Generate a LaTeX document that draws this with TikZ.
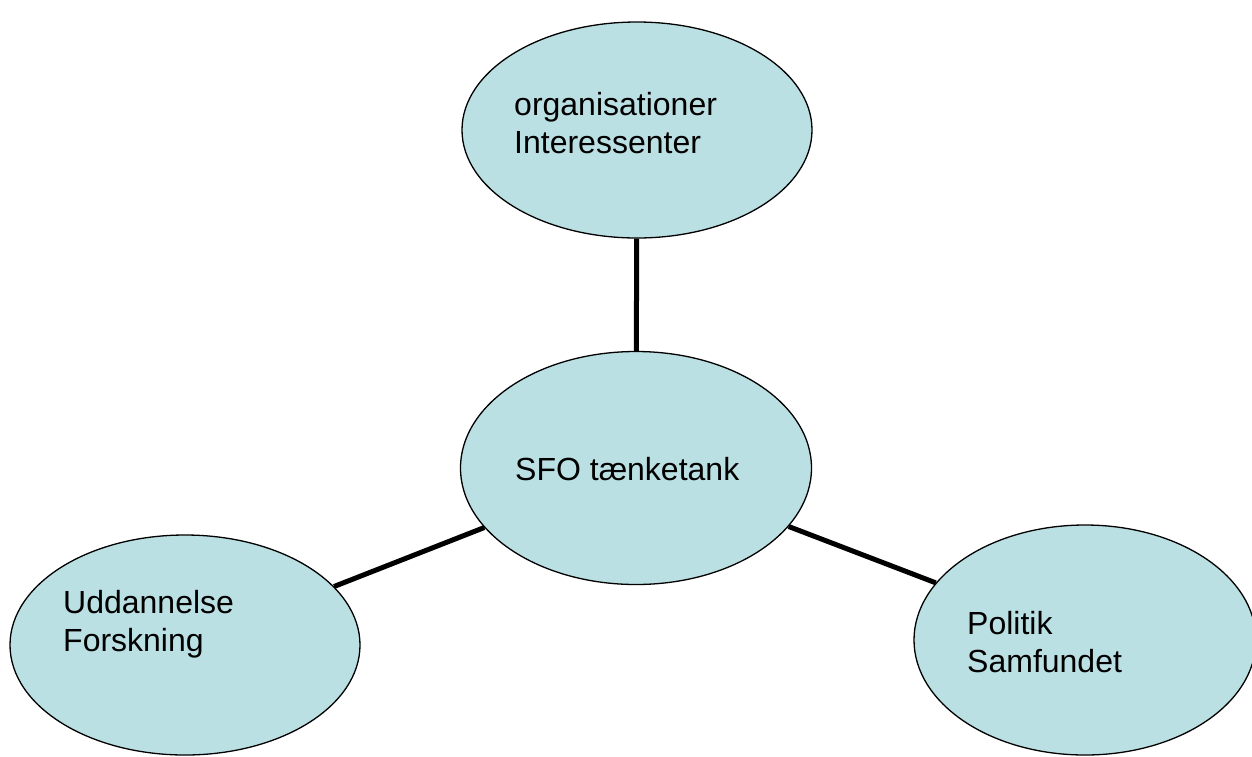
\documentclass[tikz,border=0pt]{standalone}
\usepackage{fontspec}
\setmainfont{Liberation Sans}
\usetikzlibrary{shapes.geometric}
\definecolor{bubble}{RGB}{187,224,227}
\begin{document}
\begin{tikzpicture}[x=1pt,y=-1pt,
  bubble/.style={ellipse,draw=black,line width=1.3pt,fill=bubble,inner sep=0pt},
  lbl/.style={anchor=base west,inner sep=0pt,font=\fontsize{32}{38}\selectfont,align=left},
  link/.style={line width=5pt}]
\useasboundingbox[fill=white] (0,0) rectangle (1252,756);
\node[bubble,minimum width=350pt,minimum height=216pt] (top) at (637,130) {};
\node[bubble,minimum width=351pt,minimum height=233pt] (mid) at (636,468) {};
\node[bubble,minimum width=350pt,minimum height=220pt] (left) at (185,645) {};
\node[bubble,minimum width=342pt,minimum height=230pt] (right) at (1085,640) {};
\draw[link] (top) -- (mid);
\draw[link] (mid) -- (left);
\draw[link] (mid) -- (right);
\node[lbl] (ttop) at (514,153) {organisationer\\Interessenter};
\node[lbl] (tmid) at (515,480) {SFO tænketank};
\node[lbl] (tleft) at (63,651) {Uddannelse\\Forskning};
\node[lbl] (tright) at (967,672) {Politik\\Samfundet};
\end{tikzpicture}
\end{document}
